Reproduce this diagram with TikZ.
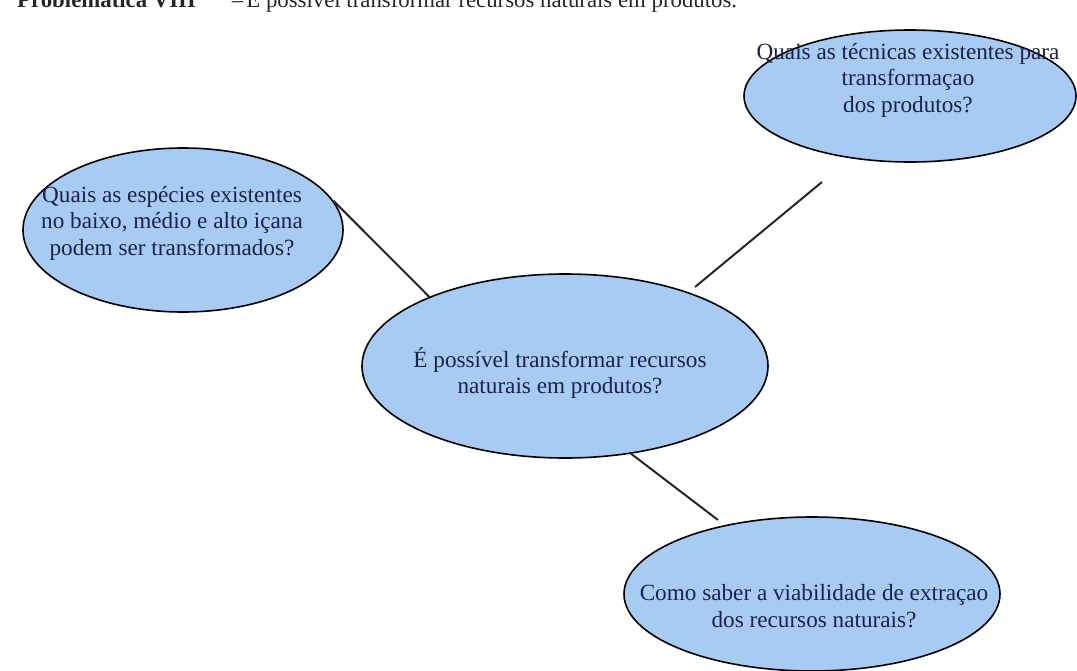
\documentclass[tikz,border=0pt]{standalone}
\usepackage{fontspec}
\setmainfont{Liberation Serif}
\usetikzlibrary{shapes.geometric}

\definecolor{bubblefill}{HTML}{A8CBF3}
\definecolor{bubbletext}{HTML}{1C2148}
\definecolor{linkgray}{HTML}{262626}

\tikzset{
  bubble/.style={ellipse, draw=black, line width=1.6pt, fill=bubblefill,
                 inner sep=0pt},
  bubbletxt/.style={align=center, text=bubbletext, inner sep=0pt,
                    font=\fontsize{23.2}{26.5}\selectfont},
  link/.style={draw=linkgray, line width=2pt}
}

\begin{document}
\begin{tikzpicture}[x=1pt, y=-1pt]
  \useasboundingbox (0,0) rectangle (1077,670);

  % heading, its upper part lies above the page edge
  \node[anchor=base west, inner sep=0pt, text=black!85] (title) at (17,7)
    {\fontsize{22.8}{26}\selectfont\bfseries Problemática VIII\hspace{36pt}\mdseries –\hspace{3pt}É possível transformar recursos naturais em produtos.};

  % the four bubbles
  \node[bubble, minimum width=332pt, minimum height=132pt] (tr) at (910,96) {};
  \node[bubble, minimum width=320pt, minimum height=164pt] (lt) at (183,230) {};
  \node[bubble, minimum width=406pt, minimum height=184pt] (ct) at (565,366) {};
  \node[bubble, minimum width=376pt, minimum height=154pt] (bt) at (812,594) {};

  % their texts
  \node[bubbletxt] (trtxt) at (908,80) {Quais as técnicas existentes para\\ transformaçao\\ dos produtos?};
  \node[bubbletxt] (lttxt) at (172,223) {Quais as espécies existentes\\ no baixo, médio e alto içana\\ podem ser transformados?};
  \node[bubbletxt] (cttxt) at (560,373) {É possível transformar recursos\\ naturais em produtos?};
  \node[bubbletxt] (bttxt) at (814,606) {Como saber a viabilidade de extraçao\\ dos recursos naturais?};

  % connectors
  \coordinate (trlow) at (695,287);
  \coordinate (trhigh) at (822,182);
  \coordinate (btend) at (718,520);

  \draw[link] (lt.11) -- (ct.153);
  \draw[link] (trlow) -- (trhigh);
  \draw[link] (ct.-53) -- (btend);
\end{tikzpicture}
\end{document}
